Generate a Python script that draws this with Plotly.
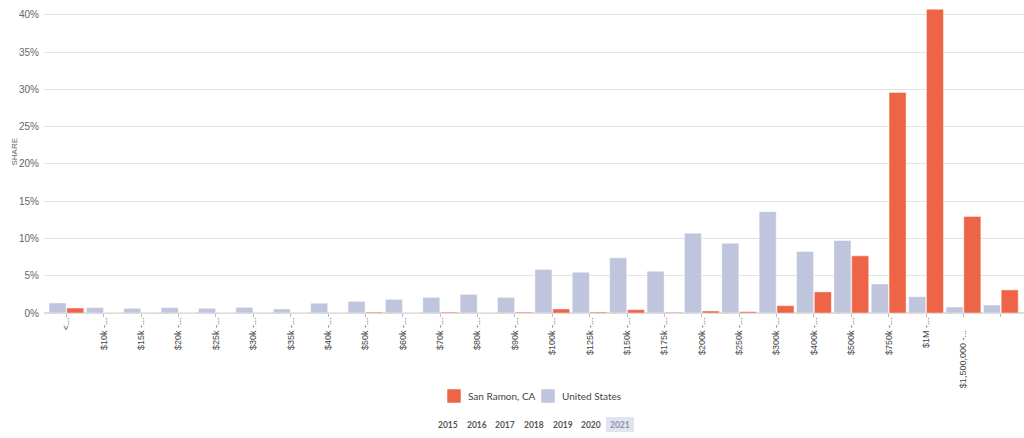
import plotly.graph_objects as go

categories = ["<10k", "$10k", "$15k", "$20k", "$25k", "$30k", "$35k", "$40k", "$50k", "$60k",
              "$70k", "$80k", "$90k", "$100k", "$125k", "$150k", "$175k", "$200k", "$250k",
              "$300k", "$400k", "$500k", "$750k", "$1M", "$1.5M", "$2M+"]
tick_labels = ["<...", "$10k -...", "$15k -...", "$20k -...", "$25k -...", "$30k -...", "$35k -...",
               "$40k -...", "$50k -...", "$60k -...", "$70k -...", "$80k -...", "$90k -...",
               "$100k -...", "$125k -...", "$150k -...", "$175k -...", "$200k -...", "$250k -...",
               "$300k -...", "$400k -...", "$500k -...", "$750k -...", "$1M -...",
               "$1,500,000 -..." + "\u00a0" * 5, ""]
san_ramon = [0.67, 0, 0, 0, 0, 0, 0, 0, 0.12, 0, 0.12, 0, 0.12, 0.54, 0.13, 0.45, 0.1, 0.27,
             0.18, 0.98, 2.83, 7.67, 29.6, 40.76, 12.96, 3.1]
united_states = [1.34, 0.72, 0.63, 0.72, 0.63, 0.76, 0.54, 1.31, 1.56, 1.83, 2.1, 2.5, 2.1, 5.85,
                 5.47, 7.4, 5.6, 10.7, 9.37, 13.6, 8.25, 9.73, 3.9, 2.19, 0.8, 1.07]
series_names = ["San Ramon, CA", "United States"]
years = ["2015", "2016", "2017", "2018", "2019", "2020", "2021"]
y_ticks = [0, 5, 10, 15, 20, 25, 30, 35, 40]

SR_COLOR = "#EE6446"
US_COLOR = "#BEC5DD"

fig = go.Figure()
fig.add_trace(go.Bar(x=categories, y=[v / 100 for v in united_states], name=series_names[1],
                     marker=dict(color=US_COLOR, line=dict(color="rgba(255,255,255,0.45)", width=1)),
                     showlegend=False))
fig.add_trace(go.Bar(x=categories, y=[v / 100 for v in san_ramon], name=series_names[0],
                     marker=dict(color=SR_COLOR, line=dict(color="rgba(255,255,255,0.45)", width=1)),
                     showlegend=False))

W, H = 1024, 438
ML, MR, MT, MB = 44, 0, 0, 125
pw = W - ML - MR
ph = H - MT - MB


def px_x(px):
    return (px - ML) / pw


def px_y(py):
    return (ph - py) / ph


fig.update_layout(
    width=W, height=H,
    margin=dict(l=ML, r=MR, t=MT, b=MB),
    paper_bgcolor="white", plot_bgcolor="white",
    barmode="group", bargap=0.05, bargroupgap=0.04,
    font=dict(family="Liberation Sans, Arial, sans-serif", color="#444", size=10),
    showlegend=False,
    xaxis=dict(
        type="category", range=[-0.6, 25.62],
        tickmode="array", tickvals=categories, ticktext=tick_labels,
        tickangle=-90, ticks="outside", ticklen=3, tickcolor="#bbb", tickwidth=1,
        tickfont=dict(size=9, color="#444"), ticklabelstandoff=-3,
        showgrid=False, showline=False, zeroline=False,
    ),
    yaxis=dict(
        range=[0, 0.42], tickmode="array", tickvals=[v / 100 for v in y_ticks],
        ticktext=[f"{v}%" for v in y_ticks],
        tickfont=dict(size=10, color="#666"),
        showgrid=True, gridcolor="#e3e3e3", gridwidth=1,
        zeroline=True, zerolinecolor="#dcdcdc", zerolinewidth=1.5,
        ticks="", ticklabelstandoff=4,
    ),
)

# y axis title
fig.add_annotation(text="SHARE", textangle=-90, xref="paper", yref="paper",
                   x=px_x(13.5), y=px_y(152), showarrow=False,
                   xanchor="center", yanchor="middle",
                   font=dict(size=8, color="#666", family="Liberation Sans, Arial, sans-serif"))

# legend (drawn manually)
legend_items = [(series_names[0], SR_COLOR, 447, 466), (series_names[1], US_COLOR, 541, 560)]
for name, col, sq_x, tx_x in legend_items:
    fig.add_shape(type="rect", xref="paper", yref="paper",
                  x0=px_x(sq_x), x1=px_x(sq_x + 14), y0=px_y(403), y1=px_y(389),
                  fillcolor=col, line=dict(color="rgba(255,255,255,0.5)", width=1))
    fig.add_annotation(text=name, xref="paper", yref="paper", x=px_x(tx_x), y=px_y(396),
                       showarrow=False, xanchor="left", yanchor="middle",
                       font=dict(size=10, family="Lato, sans-serif", color="#444"))

# year selector
year_px = [448, 476.5, 505, 534, 562.5, 591, 619.5]
fig.add_shape(type="rect", xref="paper", yref="paper",
              x0=px_x(606), x1=px_x(634), y0=px_y(432), y1=px_y(417),
              fillcolor="#e1e4ee", line=dict(width=0), layer="below")
for yr, px in zip(years, year_px):
    fig.add_annotation(text=f"<b>{yr}</b>", xref="paper", yref="paper",
                       x=px_x(px), y=px_y(424.5), showarrow=False,
                       xanchor="center", yanchor="middle",
                       font=dict(size=8.5, family="Lato, sans-serif",
                                 color="#8a92ab" if yr == "2021" else "#555"))

fig.write_html("out.html")
